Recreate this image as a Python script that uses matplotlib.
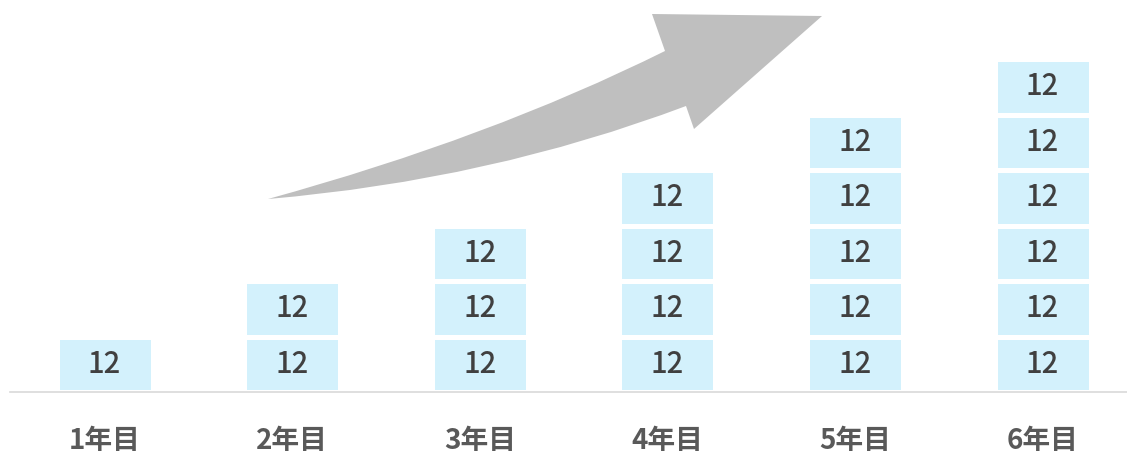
import matplotlib
matplotlib.use('Agg')
import matplotlib.pyplot as plt
from matplotlib.path import Path
from matplotlib.patches import PathPatch
import numpy as np

plt.rcParams['font.family'] = ['Noto Sans CJK JP', 'DejaVu Sans']

# 年ごとの積み上げ（各ブロック 12）
years = ['1年目', '2年目', '3年目', '4年目', '5年目', '6年目']
stacks = [
    [12],
    [12, 12],
    [12, 12, 12],
    [12, 12, 12, 12],
    [12, 12, 12, 12, 12],
    [12, 12, 12, 12, 12, 12],
]

W, H = 1127, 455
fig = plt.figure(figsize=(W / 100, H / 100), dpi=100)
ax = fig.add_axes([10 / W, 1 - 392 / H, 1 - 10 / W, 392 / H])

bar_color = '#D3F1FC'
x = np.arange(len(years))
for i, segs in enumerate(stacks):
    bottom = 0
    for v in segs:
        ax.bar(x[i], v, bottom=bottom, width=0.512, color=bar_color,
               edgecolor='white', linewidth=3.6)
        ax.text(x[i], bottom + v / 2, f'{v}', ha='center', va='center',
                fontsize=21, fontweight='medium', color='#404040')
        bottom += v

# x軸の範囲・目盛り
ax.set_xlim(-0.504, 5.45)
ax.set_ylim(0, 84.76)
ax.set_xticks(x)
ax.set_xticklabels(years, fontsize=20, fontweight='bold', color='#595959')
ax.tick_params(axis='x', length=0, pad=25)
ax.set_yticks([])
for s in ['top', 'left', 'right']:
    ax.spines[s].set_visible(False)
ax.spines['bottom'].set_color('#D9D9D9')
ax.spines['bottom'].set_linewidth(1.2)

# 右上がりの矢印（装飾）
def px(p):
    return (p[0] / W, 1 - p[1] / H)

pts = [(268, 199), (490, 138), (665, 51), (652, 14), (822, 16),
       (694, 129), (686, 106), (490, 180), (268, 199), (268, 199)]
codes = [Path.MOVETO, Path.CURVE3, Path.CURVE3, Path.LINETO, Path.LINETO,
         Path.LINETO, Path.LINETO, Path.CURVE3, Path.CURVE3, Path.CLOSEPOLY]
arrow = PathPatch(Path([px(p) for p in pts], codes), transform=fig.transFigure,
                  facecolor='#BFBFBF', edgecolor='none')
fig.patches.append(arrow)

fig.savefig('out.png', dpi=100, facecolor='white')
